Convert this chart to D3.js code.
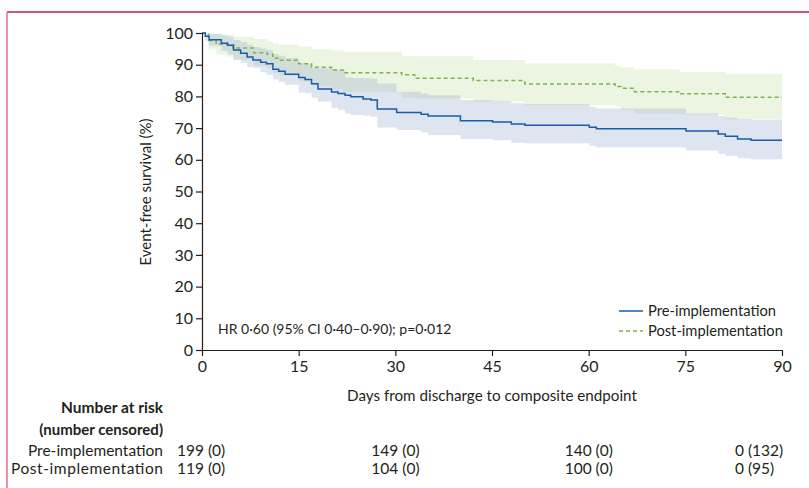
<!DOCTYPE html>
<html>
<head>
<meta charset="utf-8">
<script src="https://cdn.jsdelivr.net/npm/d3@7"></script>
<style>
  body { margin: 0; background: #fff; }
  text { font-family: Lato, "Open Sans", sans-serif; fill: #231f20; }
</style>
</head>
<body>
<div id="chart"></div>
<script>
// Kaplan-Meier steps (day, % event-free, 95% CI)
var preTimes = [0, 0.5, 1.1, 3.0, 4.0, 4.9, 6.0, 7.0, 7.9, 9.1, 10.0, 11.0, 11.9, 12.9, 15.0, 16.0, 17.0, 18.0, 20.1, 21.1, 22.2, 23.1, 25.0, 26.2, 27.2, 30.2, 34.0, 35.1, 40.1, 45.1, 48.0, 50.1, 60.1, 61.2, 75.1, 80.1, 81.2, 83.1, 85.2];
var preSurv  = [100, 99.0, 97.9, 96.8, 96.1, 94.6, 93.6, 92.4, 91.5, 90.8, 90.3, 88.6, 87.9, 87.0, 86.0, 85.3, 84.0, 82.3, 81.4, 80.9, 80.4, 79.9, 79.2, 78.9, 76.0, 74.9, 74.4, 73.8, 72.3, 71.9, 71.3, 70.9, 70.3, 69.8, 69.1, 68.1, 67.4, 66.6, 66.2];
var preLower = [100, 97.6, 96.0, 94.3, 93.2, 91.6, 90.5, 89.3, 89.0, 87.6, 86.8, 85.3, 84.6, 83.7, 81.2, 81.0, 79.6, 78.4, 76.4, 75.8, 74.6, 74.1, 73.9, 73.6, 70.2, 69.4, 68.6, 67.8, 66.6, 66.2, 65.4, 65.2, 64.4, 63.9, 62.9, 61.9, 61.3, 60.5, 60.2];
var preUpper = [100, 100, 99.8, 99.2, 98.8, 97.8, 97.1, 96.3, 95.6, 95.1, 94.7, 93.4, 92.8, 92.1, 90.6, 90.3, 89.0, 88.9, 88.6, 88.2, 86.0, 85.8, 85.7, 85.6, 84.1, 81.5, 80.9, 80.4, 78.9, 78.5, 77.8, 77.6, 76.7, 76.2, 74.6, 73.8, 73.3, 72.9, 72.6];

var postTimes = [0, 1.0, 2.2, 3.9, 4.8, 8.0, 10.1, 11.0, 11.9, 15.0, 17.0, 20.1, 21.9, 31.0, 33.0, 42.1, 50.1, 64.1, 65.0, 67.1, 74.1, 81.2];
var postSurv  = [100, 97.6, 96.5, 96.1, 95.3, 93.8, 93.3, 92.0, 91.4, 90.3, 89.2, 88.3, 87.5, 86.8, 85.7, 85.0, 83.9, 83.1, 82.6, 81.5, 80.8, 79.7];
var postLower = [100, 94.8, 93.2, 92.6, 91.6, 89.6, 88.9, 87.4, 86.6, 84.6, 83.3, 82.2, 81.3, 79.5, 79.3, 78.3, 77.2, 76.8, 75.8, 74.6, 74.3, 72.8];
var postUpper = [100, 99.8, 99.6, 99.4, 98.8, 98.1, 97.3, 96.8, 96.4, 95.7, 94.9, 94.5, 94.1, 92.8, 92.7, 91.5, 90.4, 89.7, 89.2, 88.5, 87.8, 87.1];

var xTicks = [0, 15, 30, 45, 60, 75, 90];
var yTicks = [0, 10, 20, 30, 40, 50, 60, 70, 80, 90, 100];

var riskTimes = [0, 30, 60, 90];
var riskPre  = ["199 (0)", "149 (0)", "140 (0)", "0 (132)"];
var riskPost = ["119 (0)", "104 (0)", "100 (0)", "0 (95)"];

var svg = d3.select("#chart").append("svg")
  .attr("width", 809)
  .attr("height", 488);

// page frame
svg.append("line").attr("x1", 7).attr("x2", 809).attr("y1", 12).attr("y2", 12)
  .attr("stroke", "#c2185b").attr("stroke-width", 1.5);
svg.append("line").attr("x1", 7).attr("x2", 7).attr("y1", 12).attr("y2", 488)
  .attr("stroke", "#e0708f").attr("stroke-width", 1.5);

var x = d3.scaleLinear().domain([0, 90]).range([202, 782]);
var y = d3.scaleLinear().domain([0, 100]).range([350, 33]);

function rows(times, surv, lo, hi) {
  var out = times.map(function(t, i) { return {t: t, s: surv[i], lo: lo[i], hi: hi[i]}; });
  var last = out[out.length - 1];
  out.push({t: 90, s: last.s, lo: last.lo, hi: last.hi});
  return out;
}
var pre = rows(preTimes, preSurv, preLower, preUpper);
var post = rows(postTimes, postSurv, postLower, postUpper);

var band = d3.area().curve(d3.curveStepAfter)
  .x(function(d) { return x(d.t); })
  .y0(function(d) { return y(d.lo); })
  .y1(function(d) { return y(d.hi); });
var km = d3.line().curve(d3.curveStepAfter)
  .x(function(d) { return x(d.t); })
  .y(function(d) { return y(d.s); });

svg.append("path").datum(post).attr("d", band)
  .attr("fill", "#b5d98f").attr("fill-opacity", 0.26);
svg.append("path").datum(pre).attr("d", band)
  .attr("fill", "#7f93c8").attr("fill-opacity", 0.25);

svg.append("path").datum(post).attr("d", km)
  .attr("fill", "none").attr("stroke", "#7ab648").attr("stroke-width", 1.5)
  .attr("stroke-dasharray", "4,3");
svg.append("path").datum(pre).attr("d", km)
  .attr("fill", "none").attr("stroke", "#1a5ca8").attr("stroke-width", 1.5);

// axes
var yAxis = svg.append("g").attr("transform", "translate(202,0)")
  .call(d3.axisLeft(y).tickValues(yTicks).tickSize(6).tickSizeOuter(0).tickPadding(3));
var xAxis = svg.append("g").attr("transform", "translate(0,350)")
  .call(d3.axisBottom(x).tickValues(xTicks).tickSize(6).tickSizeOuter(0).tickPadding(5));
[yAxis, xAxis].forEach(function(g) {
  g.selectAll("path, line").attr("stroke", "#231f20").attr("stroke-width", 1.2);
  g.selectAll("text").attr("font-size", 16).attr("font-family", "Lato, sans-serif").attr("fill", "#231f20");
});

svg.append("text")
  .attr("transform", "translate(151,192) rotate(-90)")
  .attr("text-anchor", "middle")
  .attr("font-size", 15)
  .text("Event-free survival (%)");

svg.append("text")
  .attr("x", 492).attr("y", 401)
  .attr("text-anchor", "middle")
  .attr("font-size", 15.2)
  .text("Days from discharge to composite endpoint");

svg.append("text")
  .attr("x", 218).attr("y", 334)
  .attr("font-size", 14)
  .text("HR 0·60 (95% CI 0·40–0·90); p=0·012");

// legend
var legend = svg.append("g");
legend.append("line").attr("x1", 619).attr("x2", 643).attr("y1", 311).attr("y2", 311)
  .attr("stroke", "#1a5ca8").attr("stroke-width", 1.5);
legend.append("line").attr("x1", 619).attr("x2", 643).attr("y1", 331).attr("y2", 331)
  .attr("stroke", "#7ab648").attr("stroke-width", 1.5).attr("stroke-dasharray", "4,3");
legend.append("text").attr("x", 648).attr("y", 316).attr("font-size", 14.7).text("Pre-implementation");
legend.append("text").attr("x", 648).attr("y", 336).attr("font-size", 14.7).text("Post-implementation");

// number at risk table
svg.append("text").attr("x", 163).attr("y", 413).attr("text-anchor", "end")
  .attr("font-size", 15.5).attr("font-weight", "bold").text("Number at risk");
svg.append("text").attr("x", 163).attr("y", 435).attr("text-anchor", "end")
  .attr("font-size", 15).attr("font-weight", "bold").text("(number censored)");
svg.append("text").attr("x", 163).attr("y", 456).attr("text-anchor", "end")
  .attr("font-size", 15.5).text("Pre-implementation");
svg.append("text").attr("x", 11).attr("y", 474)
  .attr("font-size", 15.5).attr("textLength", 152).attr("lengthAdjust", "spacing")
  .text("Post-implementation");

var colShift = [-25, -24, -24, -47];
svg.selectAll(".riskPre").data(riskPre).enter().append("text")
  .attr("class", "riskPre")
  .attr("x", function(d, i) { return x(riskTimes[i]) + colShift[i]; })
  .attr("y", 456).attr("font-size", 15.5)
  .text(function(d) { return d; });
svg.selectAll(".riskPost").data(riskPost).enter().append("text")
  .attr("class", "riskPost")
  .attr("x", function(d, i) { return x(riskTimes[i]) + colShift[i]; })
  .attr("y", 474).attr("font-size", 15.5)
  .text(function(d) { return d; });
</script>
</body>
</html>
